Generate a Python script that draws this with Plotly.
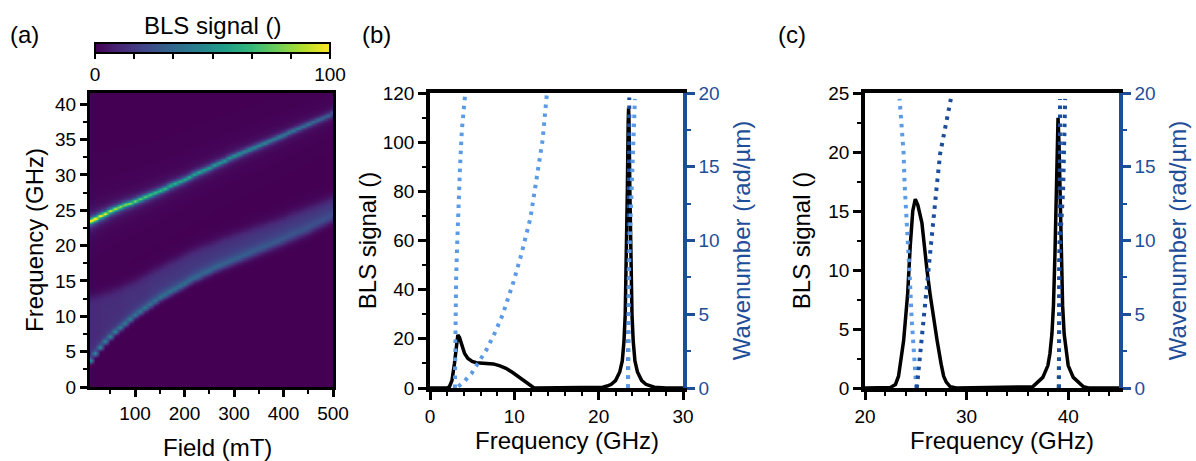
import numpy as np
import plotly.graph_objects as go

# ---------------- (a) field-frequency map: ridge values ----------------
field_mT = list(range(10, 510, 10))
upper_freq = [23.5, 23.8, 24.2, 24.5, 24.9, 25.2, 25.5, 25.8, 26.0, 26.3,
              26.6, 26.9, 27.2, 27.5, 27.8, 28.1, 28.5, 28.8, 29.1, 29.4,
              29.7, 30.1, 30.4, 30.7, 31.0, 31.4, 31.7, 32.0, 32.4, 32.7,
              33.0, 33.3, 33.6, 33.9, 34.2, 34.5, 34.8, 35.1, 35.4, 35.7,
              36.0, 36.3, 36.6, 36.9, 37.2, 37.5, 37.8, 38.1, 38.4, 38.8]
upper_amp = [120, 112, 105, 100, 96, 92, 89, 86, 83, 80,
             78, 76, 74, 72, 70, 68, 66, 65, 63, 62,
             61, 60, 59, 58, 57, 56, 55, 54, 53, 52,
             51, 50, 49, 48, 47, 46, 45, 44, 43, 42,
             41, 40, 39, 38, 37, 36, 35, 34, 33, 32]
lower_freq = [3.8, 4.8, 5.7, 6.5, 7.2, 7.9, 8.5, 9.1, 9.7, 10.3,
              10.8, 11.3, 11.8, 12.3, 12.8, 13.2, 13.6, 14.0, 14.4, 14.8,
              15.2, 15.6, 15.9, 16.3, 16.6, 17.0, 17.3, 17.6, 17.9, 18.2,
              18.5, 18.8, 19.1, 19.4, 19.7, 20.0, 20.3, 20.6, 20.9, 21.2,
              21.5, 21.8, 22.1, 22.4, 22.7, 23.1, 23.45, 23.8, 24.15, 24.5]
lower_top = [12.8, 12.9, 13.1, 13.3, 13.5, 13.8, 14.1, 14.4, 14.7, 15.0,
             15.4, 15.8, 16.2, 16.6, 16.9, 17.3, 17.7, 18.0, 18.4, 18.8,
             19.1, 19.4, 19.7, 20.0, 20.2, 20.5, 20.8, 21.1, 21.3, 21.6,
             21.8, 22.1, 22.3, 22.6, 22.8, 23.0, 23.3, 23.5, 23.8, 24.0,
             24.3, 24.6, 24.8, 25.1, 25.4, 25.6, 25.9, 26.2, 26.5, 26.8]
lower_width = [0.30, 0.30, 0.31, 0.32, 0.33, 0.34, 0.35, 0.36, 0.37, 0.38,
               0.39, 0.40, 0.41, 0.42, 0.43, 0.44, 0.45, 0.46, 0.47, 0.48,
               0.49, 0.50, 0.51, 0.52, 0.53, 0.54, 0.55, 0.56, 0.57, 0.58,
               0.59, 0.60, 0.61, 0.62, 0.63, 0.64, 0.65, 0.66, 0.67, 0.68,
               0.69, 0.70, 0.70, 0.70, 0.70, 0.70, 0.70, 0.70, 0.70, 0.70]
lower_amp = [50, 49, 48, 47, 46, 45, 44, 43, 42, 41,
             41, 40, 40, 39, 39, 38, 38, 37, 37, 36,
             36, 35, 35, 34, 34, 33, 33, 32, 32, 31,
             31, 30, 30, 29, 29, 29, 28, 28, 28, 27,
             27, 27, 26, 26, 26, 25, 25, 25, 24, 24]
lower_plateau = [12, 12, 12, 13, 13, 13, 13, 14, 14, 14,
                 14, 14, 15, 15, 15, 15, 15, 15, 15, 15,
                 15, 15, 15, 15, 15, 15, 15, 15, 15, 15,
                 15, 15, 15, 15, 15, 15, 15, 15, 15, 15,
                 15, 15, 15, 15, 15, 15, 15, 15, 15, 15]
freq_grid = np.round(np.arange(0, 42.01, 0.1), 2)

# ---------------- (b) spectrum + dispersion ----------------
b_freq = [0, 2.0, 2.3, 2.6, 2.9, 3.1, 3.3, 3.5, 3.8, 4.1, 4.5, 5.0, 5.5, 6.5, 7.5, 8.3, 9.0,
          9.8, 10.5, 11.0, 11.5, 12.0, 12.3, 12.6, 19.0, 20.5, 21.0, 21.5, 22.0, 22.5, 22.8,
          23.0, 23.15, 23.3, 23.4, 23.5, 23.55, 23.6, 23.7, 23.8, 23.95, 24.1, 24.3, 24.6,
          25.1, 25.6, 26.1, 26.6, 28.0, 30.0]
b_signal = [0, 0, 0.5, 3, 10, 17, 21.6, 20.5, 17, 14, 12, 10.8, 10.3, 10.1, 9.8, 9.0, 8.0,
            6.3, 4.5, 3.3, 1.8, 0.6, 0.1, 0, 0, 0.3, 0.8, 1.5, 3.0, 6.5, 11,
            19, 30, 53, 80, 108, 114, 108, 80, 53, 30, 19, 11, 6.5,
            3.0, 1.5, 0.8, 0.3, 0, 0]
b_disp1_f = [2.95, 2.97, 3.0, 3.1, 3.24, 3.38, 3.56, 3.78, 4.15]
b_disp1_k = [0, 2.5, 5, 7.5, 10, 12.5, 15, 17.5, 19.8]
b_disp2_f = [3.36, 4.15, 4.94, 5.6, 6.7, 7.7, 8.6, 9.9, 10.8, 11.9, 12.65, 13.35, 13.85]
b_disp2_k = [0.1, 0.5, 1.0, 1.6, 2.6, 3.75, 4.95, 7.2, 9.0, 11.5, 14.2, 16.8, 19.9]
b_disp3_f = [23.48, 23.52, 23.6, 23.75, 24.0, 24.15, 24.3]
b_disp3_k = [0, 4, 8, 11, 14.6, 17, 19.6]
b_disp4_f = [23.48, 23.5, 23.55, 23.63]
b_disp4_k = [0, 8, 14, 19.7]

# ---------------- (c) spectrum + dispersion ----------------
c_freq = [20, 22, 22.5, 23, 23.3, 23.8, 24.2, 24.45, 24.7, 24.95, 25.2, 25.6, 25.83, 26.1,
          26.4, 26.8, 27.1, 27.5, 27.74, 28.0, 28.4, 29, 36.5, 37.0, 37.5, 38.0, 38.2, 38.4,
          38.55, 38.7, 38.8, 38.9, 39.0, 39.1, 39.2, 39.3, 39.45, 39.6, 39.8, 40.0, 40.5,
          41.0, 41.5, 42, 45]
c_signal = [0, 0, 0.05, 0.3, 1, 4, 8, 12, 15, 16, 15.5, 14, 12, 10,
            8, 5.5, 4, 2, 1, 0.5, 0.1, 0, 0.1, 0.5, 0.9, 1.9, 2.9, 4.6,
            7.0, 11.45, 15.9, 20.6, 22.9, 20.6, 15.9, 11.45, 7.0, 4.6, 2.9, 1.9, 0.9,
            0.5, 0.1, 0, 0]
c_disp1_f = [25.05, 24.8, 24.6, 24.45, 24.3, 24.07, 23.9, 23.8, 23.6, 23.4]
c_disp1_k = [0, 2.4, 4.6, 6.9, 9.2, 11.7, 13.8, 15.9, 17.8, 19.6]
c_disp2_f = [25.1, 25.43, 25.76, 26.1, 26.4, 26.75, 27.08, 27.4, 27.9, 28.45]
c_disp2_k = [0, 2.4, 4.6, 6.9, 9.2, 11.7, 13.8, 15.9, 17.8, 19.6]
c_disp3_f = [39.08, 39.12, 39.15, 39.2]
c_disp3_k = [0, 6, 12, 19.6]
c_disp4_f = [39.08, 39.1, 39.13, 39.3, 39.5, 39.6, 39.7]
c_disp4_k = [0, 5, 8.7, 11, 13.4, 16.5, 19.6]

# ---------------- styles ----------------
W, H = 1196, 461
FONT = "Liberation Sans, Arial, Helvetica, sans-serif"
TICK = 19
TITLE = 24
BLACK = "black"
NAVY = "#1f4e99"
LIGHT = "#5b9be6"
DARK = "#1b4d9c"
DOTS = "3.5px,5.5px"


def px_x(p):
    return p / W


def px_y(p):
    return 1 - p / H


# build map from the ridge values
F = freq_grid[:, None]
fu = np.array(upper_freq)[None, :]
au = np.array(upper_amp)[None, :]
fc = np.array(lower_freq)[None, :]
fh = np.array(lower_top)[None, :]
wl = np.array(lower_width)[None, :]
al = np.array(lower_amp)[None, :]
pl = np.array(lower_plateau)[None, :]
upper = au / (1 + ((F - fu) / 0.33) ** 2)
below = al * np.exp(-((F - fc) ** 2) / (2 * wl ** 2))
above = (al - pl) * np.exp(-(F - fc) / (1.3 * wl)) + pl * 0.5 * (1 - np.tanh((F - fh) / 0.8))
z = upper + np.where(F < fc, below, above)

fig = go.Figure()

fig.add_trace(go.Heatmap(
    x=field_mT, y=freq_grid, z=z, colorscale="Viridis", zmin=0, zmax=100,
    zsmooth="best", xaxis="x", yaxis="y",
    colorbar=dict(
        orientation="h", x=px_x(212.5), xanchor="center", y=px_y(43), yanchor="top",
        len=235, lenmode="pixels", thickness=10, thicknessmode="pixels",
        outlinewidth=2, outlinecolor=BLACK, xpad=0, ypad=0,
        tickvals=[0, 100 / 6, 200 / 6, 50, 400 / 6, 500 / 6, 100],
        ticktext=["0", "", "", "", "", "", "100"],
        ticks="outside", ticklen=5, tickwidth=2, tickcolor=BLACK,
        tickfont=dict(size=TICK, color=BLACK, family=FONT),
    ),
))

# (b)
fig.add_trace(go.Scatter(x=b_freq, y=b_signal, mode="lines", line=dict(color=BLACK, width=3.5),
                         xaxis="x2", yaxis="y2", showlegend=False))
for fx, ky, col in [(b_disp1_f, b_disp1_k, LIGHT), (b_disp2_f, b_disp2_k, LIGHT),
                    (b_disp4_f, b_disp4_k, DARK), (b_disp3_f, b_disp3_k, LIGHT)]:
    fig.add_trace(go.Scatter(x=fx, y=ky, mode="lines", line=dict(color=col, width=4, dash=DOTS),
                             xaxis="x2", yaxis="y3", showlegend=False))
# (c)
fig.add_trace(go.Scatter(x=c_freq, y=c_signal, mode="lines", line=dict(color=BLACK, width=3.5),
                         xaxis="x3", yaxis="y4", showlegend=False))
for fx, ky, col in [(c_disp1_f, c_disp1_k, LIGHT), (c_disp2_f, c_disp2_k, DARK),
                    (c_disp3_f, c_disp3_k, DARK), (c_disp4_f, c_disp4_k, DARK)]:
    fig.add_trace(go.Scatter(x=fx, y=ky, mode="lines", line=dict(color=col, width=4, dash=DOTS),
                             xaxis="x3", yaxis="y5", showlegend=False))


def ax(color=BLACK, **kw):
    d = dict(showline=True, linecolor=color, ticks="outside", tickcolor=color,
             tickfont=dict(size=TICK, color=color, family=FONT), showgrid=False, zeroline=False,
             automargin=False, ticklen=8, tickwidth=3)
    d.update(kw)
    return d


def minor(step, color=BLACK):
    return dict(dtick=step, tick0=0, ticklen=4, tickwidth=2, ticks="outside", tickcolor=color)


def label(text, xp, yp, color=BLACK, anchor="center"):
    return dict(text=text, x=px_x(xp), y=px_y(yp), xref="paper", yref="paper", xanchor=anchor,
                yanchor="middle", showarrow=False, font=dict(size=TITLE, color=color, family=FONT))


fig.update_layout(
    width=W, height=H, template="none",
    margin=dict(l=0, r=0, t=0, b=0),
    paper_bgcolor="white", plot_bgcolor="white",
    font=dict(family=FONT, color=BLACK),
    showlegend=False,
    xaxis=ax(domain=[px_x(90), px_x(333)], range=[9, 500], anchor="y", mirror=True, linewidth=3,
             tick0=0, dtick=100, ticklen=7, tickwidth=2.5, minor=minor(50)),
    yaxis=ax(domain=[px_y(387), px_y(93)], range=[0, 41.6], anchor="x", mirror=True, linewidth=3,
             tick0=0, dtick=5, ticklen=7, tickwidth=2.5, minor=minor(2.5),
             title=dict(text="Frequency (GHz)", standoff=5, font=dict(size=TITLE))),
    xaxis2=ax(domain=[px_x(430), px_x(683)], range=[0, 30], anchor="y2", mirror=True, linewidth=3.5,
              tick0=0, dtick=10, minor=minor(2)),
    yaxis2=ax(domain=[px_y(388), px_y(93)], range=[0, 120], anchor="x2", linewidth=3.5,
              tick0=0, dtick=20, minor=minor(10),
              title=dict(text="BLS signal ()", standoff=0, font=dict(size=TITLE))),
    yaxis3=ax(color=NAVY, overlaying="y2", side="right", range=[0, 20], anchor="x2", linewidth=3.5,
              tick0=0, dtick=5, minor=minor(2.5, NAVY),
              title=dict(text="Wavenumber (rad/µm)", standoff=16, font=dict(size=TITLE, color=NAVY))),
    xaxis3=ax(domain=[px_x(865), px_x(1119)], range=[20, 45], anchor="y4", mirror=True, linewidth=3.5,
              tick0=0, dtick=10, minor=minor(2)),
    yaxis4=ax(domain=[px_y(388), px_y(93)], range=[0, 25], anchor="x3", linewidth=3.5,
              tick0=0, dtick=5, minor=minor(2.5),
              title=dict(text="BLS signal ()", standoff=12, font=dict(size=TITLE))),
    yaxis5=ax(color=NAVY, overlaying="y4", side="right", range=[0, 20], anchor="x3", linewidth=3.5,
              tick0=0, dtick=5, minor=minor(2.5, NAVY),
              title=dict(text="Wavenumber (rad/µm)", standoff=16, font=dict(size=TITLE, color=NAVY))),
    annotations=[
        label("(a)", 8, 35, anchor="left"),
        label("(b)", 360, 35, anchor="left"),
        label("(c)", 776, 35, anchor="left"),
        label("BLS signal ()", 212.5, 25),
        label("Field (mT)", 217.5, 447),
        label("Frequency (GHz)", 566.5, 440),
        label("Frequency (GHz)", 1001.5, 440),
    ],
)

fig.write_html("out.html")
